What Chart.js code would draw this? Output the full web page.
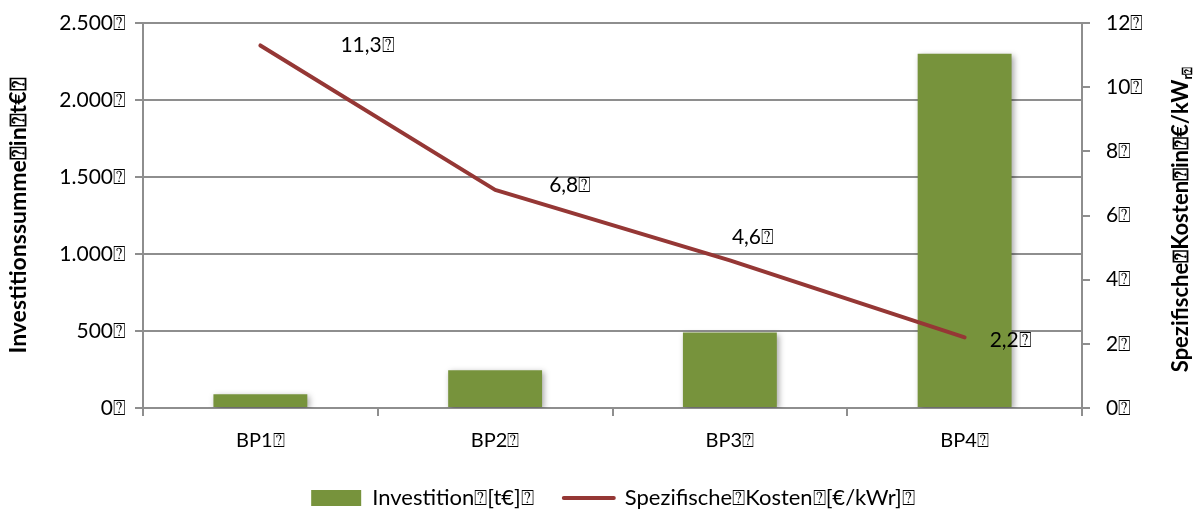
<!DOCTYPE html>
<html>
<head>
<meta charset="utf-8">
<script src="https://cdn.jsdelivr.net/npm/chart.js@4"></script>
<style>
  html, body { margin: 0; padding: 0; background: #ffffff; }
  #wrap { width: 1194px; height: 513px; }
</style>
</head>
<body>
<div id="wrap"><canvas id="c" width="1194" height="513"></canvas></div>
<script>
// Chart data
const categories = ['BP1⍰', 'BP2⍰', 'BP3⍰', 'BP4⍰'];
const investition = [90, 245, 490, 2300];          // t€
const spezKosten = [11.3, 6.8, 4.6, 2.2];           // €/kWr
const leftTicks = [0, 500, 1000, 1500, 2000, 2500];
const rightTicks = [0, 2, 4, 6, 8, 10, 12];
const seriesNames = ['Investition⍰[t€]⍰', 'Spezifische⍰Kosten⍰[€/kWr]⍰'];
const leftTitle = 'Investitionssumme⍰in⍰t€⍰';
const rightTitleMain = 'Spezifische⍰Kosten⍰in⍰€/kW';
const rightTitleSub = 'r⍰';

const FONT = "Lato, 'Open Sans', 'DejaVu Sans', sans-serif";
const BAR_COLOR = '#77933C';
const LINE_COLOR = '#953735';
const GRID = '#8e8e8e';

function thousands(v) {
  return String(v).replace(/\B(?=(\d{3})+(?!\d))/g, '.');
}
function decimalComma(v) {
  return v.toFixed(1).replace('.', ',');
}

// soft drop shadow behind the bars
const barShadow = {
  id: 'barShadow',
  beforeDatasetDraw(chart, args) {
    if (args.meta.type !== 'bar') return;
    const ctx = chart.ctx;
    ctx.save();
    ctx.shadowColor = 'rgba(0,0,0,0.35)';
    ctx.shadowBlur = 6;
    ctx.shadowOffsetX = 2;
    ctx.shadowOffsetY = 2;
  },
  afterDatasetDraw(chart, args) {
    if (args.meta.type !== 'bar') return;
    chart.ctx.restore();
  }
};

// nudge the legend block
const legendShift = {
  id: 'legendShift',
  afterLayout(chart, args, opts) {
    const lg = chart.legend;
    if (!lg) return;
    lg.left += opts.dx;
    lg.right += opts.dx;
    lg.top += opts.dy;
    lg.bottom += opts.dy;
  }
};

// value labels next to the cost line
const lineLabels = {
  id: 'lineLabels',
  afterDatasetsDraw(chart, args, opts) {
    const ctx = chart.ctx;
    const meta = chart.getDatasetMeta(1);
    const ds = chart.data.datasets[1];
    ctx.save();
    ctx.font = opts.font;
    ctx.fillStyle = '#000';
    ctx.textAlign = 'left';
    ctx.textBaseline = 'middle';
    meta.data.forEach((pt, i) => {
      const off = opts.offsets[i] || [0, 0];
      ctx.fillText(decimalComma(ds.data[i]) + '⍰', pt.x + off[0], pt.y + off[1]);
    });
    ctx.restore();
  }
};

// right-hand axis title, reading bottom to top, with subscript
const rightTitle = {
  id: 'rightTitle',
  afterDraw(chart, args, opts) {
    const ctx = chart.ctx;
    const area = chart.chartArea;
    ctx.save();
    ctx.translate(opts.x, (area.top + area.bottom) / 2 + opts.dy);
    ctx.rotate(-Math.PI / 2);
    ctx.fillStyle = '#000';
    ctx.textBaseline = 'alphabetic';
    ctx.font = 'bold 22px ' + FONT;
    const w1 = ctx.measureText(rightTitleMain).width;
    ctx.font = 'bold 13px ' + FONT;
    const w2 = ctx.measureText(rightTitleSub).width;
    const start = -(w1 + w2) / 2;
    ctx.font = 'bold 22px ' + FONT;
    ctx.fillText(rightTitleMain, start, 8);
    ctx.font = 'bold 13px ' + FONT;
    ctx.fillText(rightTitleSub, start + w1, 12);
    ctx.restore();
  }
};

function noVerticalPadding(scale) {
  scale.paddingTop = 0;
  scale.paddingBottom = 0;
}

new Chart(document.getElementById('c'), {
  type: 'bar',
  data: {
    labels: categories,
    datasets: [
      {
        type: 'bar',
        label: seriesNames[0],
        data: investition,
        backgroundColor: BAR_COLOR,
        borderWidth: 0,
        yAxisID: 'y',
        order: 2,
        barPercentage: 0.4,
        categoryPercentage: 1.0
      },
      {
        type: 'line',
        label: seriesNames[1],
        data: spezKosten,
        borderColor: LINE_COLOR,
        backgroundColor: LINE_COLOR,
        borderWidth: 4,
        borderCapStyle: 'round',
        borderJoinStyle: 'round',
        pointRadius: 0,
        tension: 0,
        yAxisID: 'y1',
        order: 1
      }
    ]
  },
  options: {
    responsive: false,
    animation: false,
    devicePixelRatio: 1,
    layout: { padding: { top: 23, right: 0, left: 0, bottom: 0 } },
    plugins: {
      tooltip: { enabled: false },
      legend: {
        position: 'bottom',
        labels: {
          color: '#000',
          font: { family: FONT, size: 22 },
          usePointStyle: true,
          pointStyleWidth: 50,
          boxHeight: 16,
          padding: 30,
          generateLabels(chart) {
            const ds = chart.data.datasets;
            return [
              { text: ds[0].label, fillStyle: BAR_COLOR, strokeStyle: BAR_COLOR, lineWidth: 0, pointStyle: 'rect', datasetIndex: 0, hidden: false },
              { text: ds[1].label, fillStyle: LINE_COLOR, strokeStyle: LINE_COLOR, lineWidth: 4, lineCap: 'round', pointStyle: 'line', datasetIndex: 1, hidden: false }
            ];
          }
        }
      },
      legendShift: { dx: 16, dy: 6 },
      lineLabels: {
        font: '21px ' + FONT,
        offsets: [[80, 0], [54, -5], [2, -23], [25, 3]]
      },
      rightTitle: { x: 1180, dy: 4 }
    },
    scales: {
      x: {
        offset: true,
        grid: {
          display: true,
          offset: true,
          drawOnChartArea: false,
          drawTicks: true,
          tickLength: 8,
          color: GRID,
          lineWidth: 2
        },
        border: { display: true, color: GRID, width: 2 },
        ticks: {
          color: '#000',
          font: { family: FONT, size: 20 },
          padding: 13,
          maxRotation: 0
        },
        afterFit(scale) { scale.height = 43; }
      },
      y: {
        position: 'left',
        min: 0,
        max: 2500,
        afterBuildTicks(scale) { scale.ticks = leftTicks.map(v => ({ value: v })); },
        grid: {
          display: true,
          drawOnChartArea: true,
          drawTicks: true,
          tickLength: 8,
          color: GRID,
          lineWidth: 2
        },
        border: { display: true, color: GRID, width: 2 },
        ticks: {
          color: '#000',
          font: { family: FONT, size: 21 },
          padding: 9,
          callback: v => thousands(v) + '⍰'
        },
        title: {
          display: true,
          text: leftTitle,
          color: '#000',
          font: { family: FONT, size: 23, weight: 'bold' },
          padding: { top: 5, bottom: 0 }
        },
        afterFit(scale) { scale.width = 143; noVerticalPadding(scale); }
      },
      y1: {
        position: 'right',
        min: 0,
        max: 12,
        afterBuildTicks(scale) { scale.ticks = rightTicks.map(v => ({ value: v })); },
        grid: {
          display: true,
          drawOnChartArea: false,
          drawTicks: true,
          tickLength: 8,
          color: GRID,
          lineWidth: 2
        },
        border: { display: true, color: GRID, width: 2 },
        ticks: {
          color: '#000',
          font: { family: FONT, size: 21 },
          padding: 16,
          callback: v => v + '⍰'
        },
        afterFit(scale) { scale.width = 112; noVerticalPadding(scale); }
      }
    }
  },
  plugins: [barShadow, legendShift, lineLabels, rightTitle]
});
</script>
</body>
</html>
